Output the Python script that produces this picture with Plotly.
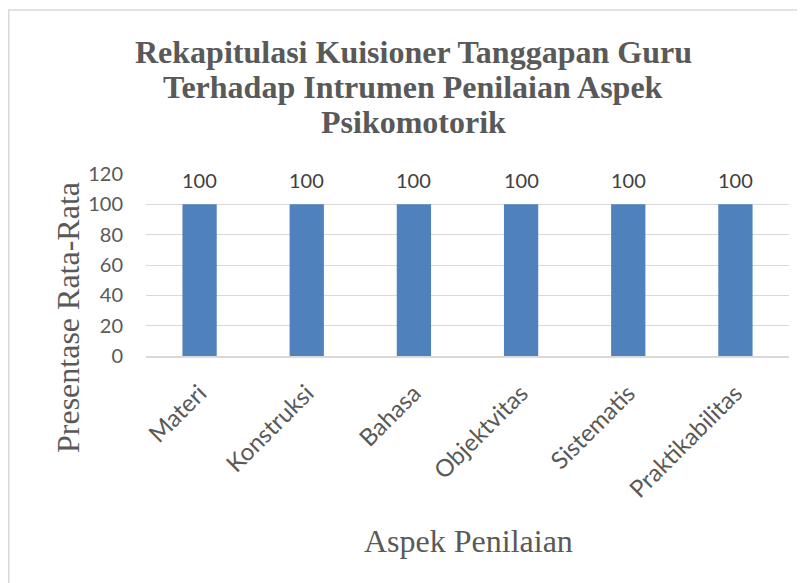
import plotly.graph_objects as go

categories = ["Materi", "Konstruksi", "Bahasa", "Objektvitas", "Sistematis", "Praktikabilitas"]
values = [100, 100, 100, 100, 100, 100]
y_ticks = [0, 20, 40, 60, 80, 100, 120]
title_lines = ["Rekapitulasi Kuisioner Tanggapan Guru",
               "Terhadap Intrumen Penilaian Aspek",
               "Psikomotorik"]

OFF = 8  # page body margin
W, H = 805 - OFF, 583 - OFF
L, R, T, B = 146 - OFF, 16, 174 - OFF, 227
pw, ph = W - L - R, H - T - B

def px_x(x):
    return (x - OFF - L) / pw

def px_y(y):
    return (H - B - (y - OFF)) / ph

SERIF = "Liberation Serif, Times New Roman, serif"
SANS = "Lato, Carlito, sans-serif"
GREY = "#595959"

fig = go.Figure(go.Bar(
    x=categories, y=values,
    marker=dict(color="#4f81bd", line=dict(width=0)),
    width=0.32,
))

annotations = []
for line, yc in zip(title_lines, [52, 87, 122]):
    annotations.append(dict(
        text="<b>" + line + "</b>", xref="paper", yref="paper",
        x=px_x(413), y=px_y(yc), xanchor="center", yanchor="middle",
        showarrow=False, font=dict(family=SERIF, size=32, color=GREY)))
for c, v in zip(categories, values):
    annotations.append(dict(
        text=str(v), x=c, y=v, xref="x", yref="y", xanchor="center", yanchor="bottom",
        yshift=10, showarrow=False, font=dict(family=SANS, size=20, color="#404040")))
annotations += [
    dict(text="Presentase Rata-Rata", textangle=-90,
         xref="paper", yref="paper", x=px_x(68), y=px_y(318), xanchor="center", yanchor="middle",
         showarrow=False, font=dict(family=SERIF, size=32, color=GREY)),
    dict(text="Aspek Penilaian",
         xref="paper", yref="paper", x=px_x(468), y=px_y(541), xanchor="center", yanchor="middle",
         showarrow=False, font=dict(family=SERIF, size=32, color=GREY)),
]

fig.update_layout(
    width=W, height=H,
    margin=dict(l=L, r=R, t=T, b=B),
    paper_bgcolor="white", plot_bgcolor="white",
    showlegend=False,
    xaxis=dict(
        tickangle=-45, tickfont=dict(family=SANS, size=24, color=GREY),
        showgrid=False, showline=True, linecolor="#d9d9d9", linewidth=1.5, ticks="",
        ticklabelstandoff=12,
    ),
    yaxis=dict(
        range=[0, 120], tickvals=y_ticks,
        tickfont=dict(family=SANS, size=20, color=GREY),
        showgrid=True, gridcolor="#d9d9d9", gridwidth=1.2, zeroline=False,
        showline=False, ticks="", ticklabelstandoff=22,
    ),
    shapes=[dict(type="rect", xref="paper", yref="paper",
                 x0=px_x(OFF + 0.8), x1=px_x(812), y0=px_y(10), y1=px_y(595),
                 line=dict(color="#d9d9d9", width=1.5), layer="below")],
    annotations=annotations,
)

fig.write_html("out.html")
